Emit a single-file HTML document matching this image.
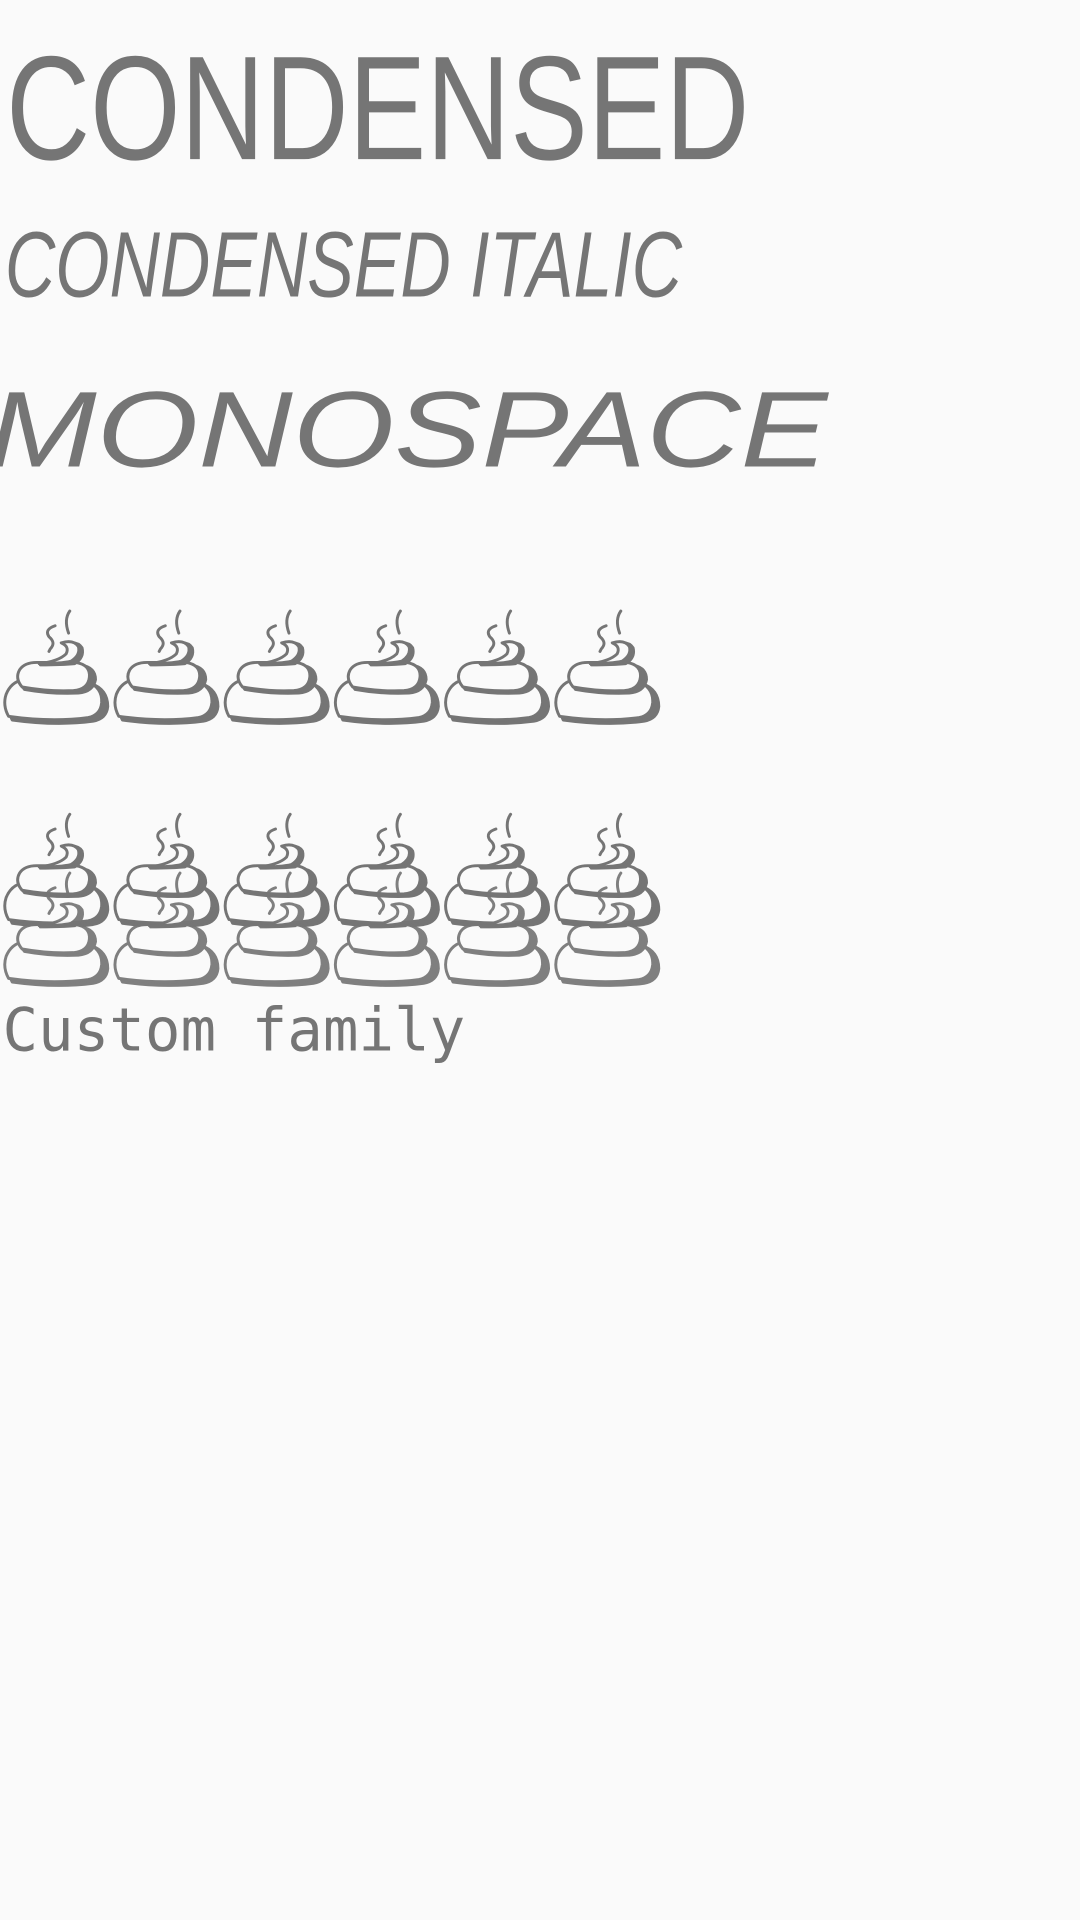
<!DOCTYPE html>
<html><head><meta charset="utf-8"><style>
html,body{margin:0;padding:0;background:#fafafa;width:1080px;height:1920px;overflow:hidden}
svg{display:block}
</style></head><body>
<svg width="1080" height="1920" viewBox="0 0 882 1568" xmlns="http://www.w3.org/2000/svg">
<rect width="882" height="1568" fill="#fafafa"/>
<defs>
<g id="poo" stroke="#757575" stroke-width="2.4" stroke-linejoin="round" stroke-linecap="round">
  <path d="M45 13 Q36 16 40 22 Q46 27 41 32 L40 34" fill="none"/>
  <path d="M57 1 Q52 8 56 19" fill="none"/>
  <path d="M8 89 Q3 80 6 70 Q10 60 20 58 L72 59 Q86 64 86 78 Q85 88 74 90 Q44 94 8 89Z" fill="#757575" transform="translate(2,1)"/>
  <path d="M7 87 Q2 78 5 69 Q9 59 19 57 L70 58 Q84 63 83 76 Q82 86 72 88 Q42 92 7 87Z" fill="#fafafa"/>
  <path d="M18 64 Q12 57 16 50 Q20 44 30 44 L64 44 Q76 46 76 56 Q74 66 62 67 Q40 68 18 64Z" fill="#757575" transform="translate(2,1)"/>
  <path d="M18 63 Q12 56 16 49 Q20 43 30 43 L62 43 Q74 45 73 55 Q72 65 60 66 Q40 67 18 63Z" fill="#fafafa"/>
  <path d="M32 44 Q50 44 60 43 Q68 38 66 30 Q62 24 52 27 Q58 30 56 36 Q50 42 32 44Z" fill="#757575" transform="translate(1,1)"/>
  <path d="M32 44 Q50 44 58 42 Q66 37 64 30 Q60 24 50 27 Q57 30 54 36 Q48 42 32 44Z" fill="#fafafa"/>
</g>
</defs>
<g fill="#757575" font-family="Liberation Sans, sans-serif">
<text x="5" y="130" font-size="121" textLength="607" lengthAdjust="spacingAndGlyphs">CONDENSED</text>
<text x="4" y="242" font-size="76" font-style="italic" textLength="553" lengthAdjust="spacingAndGlyphs">CONDENSED ITALIC</text>
<text x="-10" y="381" font-size="88" font-style="italic" textLength="686" lengthAdjust="spacingAndGlyphs">MONOSPACE</text>
<text x="2" y="858" font-size="49" font-family="DejaVu Sans Mono, Liberation Mono, monospace" textLength="378" lengthAdjust="spacingAndGlyphs">Custom family</text>
</g>
<g transform="translate(0,498)">
<use href="#poo" x="0"/><use href="#poo" x="90"/><use href="#poo" x="180"/><use href="#poo" x="270"/><use href="#poo" x="360"/><use href="#poo" x="450"/>
</g>
<g transform="translate(0,664)">
<use href="#poo" x="0"/><use href="#poo" x="90"/><use href="#poo" x="180"/><use href="#poo" x="270"/><use href="#poo" x="360"/><use href="#poo" x="450"/>
</g>
<g transform="translate(0,712)" opacity="0.92">
<use href="#poo" x="0"/><use href="#poo" x="90"/><use href="#poo" x="180"/><use href="#poo" x="270"/><use href="#poo" x="360"/><use href="#poo" x="450"/>
</g>
</svg>
</body></html>
